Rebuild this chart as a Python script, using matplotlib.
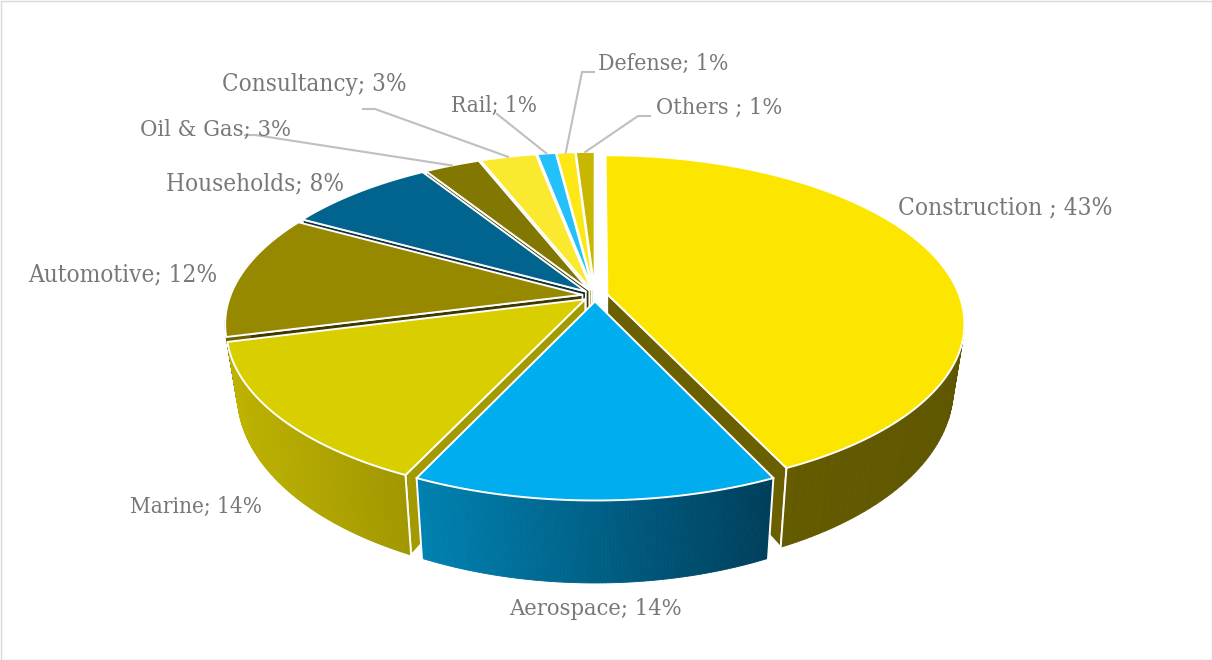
import numpy as np
import matplotlib
matplotlib.use("Agg")
import matplotlib.pyplot as plt
from matplotlib.colors import to_rgb
from matplotlib.patches import Polygon

categories = ["Construction ", "Aerospace", "Marine", "Automotive", "Households",
              "Oil & Gas", "Consultancy", "Rail", "Defense", "Others "]
values = [43, 14, 14, 12, 8, 3, 3, 1, 1, 1]

top_colors = ["#FCE600", "#00ADEE", "#D9CE00", "#968900", "#00648E",
              "#827700", "#FBE92F", "#24C0FA", "#FDE815", "#C8B700"]
wall_colors = ["#6B6000", "#00587C", "#A39900", "#3F3900", "#10303F",
               "#3D3800", "#8A7F10", "#0B6F96", "#8A7F00", "#6B6000"]
# outer rim shading, left to right
rim_colors = [("#6B6000", "#5F5600"), ("#0082B2", "#003F5C"), ("#BEB300", "#A19700"),
              ("#6B6000", "#6B6000"), ("#003F5C", "#003F5C"), ("#6B6000", "#6B6000"),
              ("#6B6000", "#6B6000"), ("#003F5C", "#003F5C"), ("#6B6000", "#6B6000"),
              ("#6B6000", "#6B6000")]

# label anchor (left edge, vertical centre) in figure pixels, with its font size
label_pos = [(898, 208), (509, 609), (130, 507), (28, 275), (166, 184),
             (140, 130), (222, 84), (451, 106), (598, 64), (656, 108)]
label_size = [17.6, 16.9, 16.2, 17.5, 17.4, 16.9, 17.4, 16.2, 16.5, 16.8]
# leader lines: start of line and knee, only the small slices have one
leaders = {5: [(245, 135), (255, 135)], 6: [(363, 109), (375, 109)], 7: [(497, 114)],
           8: [(594, 72), (582, 72)], 9: [(650, 116), (638, 116)]}

CX, CY = 595, 295.5
A, B, K = 352, 163, 0.17   # perspective of the disc
EXPLODE = 0.036
DEPTH = 62
SHRINK_X, SHRINK_Y = 0.97, 1.1


def project(u, v, bottom=False):
    # disc coordinates to figure pixels, v points away from the viewer
    w = 1 + K * v
    x = A * u / w
    y = B * v / w
    if bottom:
        return CX + SHRINK_X * x, CY - SHRINK_Y * y + DEPTH
    return CX + x, CY - y


fig = plt.figure(figsize=(12.12, 6.6), dpi=100)
ax = fig.add_axes([0, 0, 1, 1])
ax.set_xlim(0, 1212)
ax.set_ylim(660, 0)
ax.axis("off")
ax.add_patch(plt.Rectangle((0.5, 0.5), 1211, 659, fc="white", ec="#D9D9D9", lw=1))

total = sum(values)
edges = np.cumsum([0] + values) / total * 2 * np.pi
slices = []
for i in range(len(values)):
    mid = (edges[i] + edges[i + 1]) / 2
    du, dv = EXPLODE * np.sin(mid), EXPLODE * np.cos(mid)
    t = np.linspace(edges[i], edges[i + 1], max(int(values[i] * 6), 12))
    slices.append((i, np.cos(mid), du, dv, t))

# far slices first so nearer ones paint over them
for i, depth_key, du, dv, t in sorted(slices, key=lambda s: -s[1]):
    u = np.sin(t) + du
    v = np.cos(t) + dv
    xt, yt = project(u, v)
    xb, yb = project(u, v, bottom=True)
    ax0, ay0 = project(du, dv)
    bx0, by0 = project(du, dv, bottom=True)

    # only the radial wall turned towards the viewer is drawn
    end = None
    if edges[i + 1] < np.pi:
        end = -1
    elif edges[i] > np.pi:
        end = 0
    if end is not None:
        wall = [(ax0, ay0), (xt[end], yt[end]), (xb[end], yb[end]), (bx0, by0)]
        ax.add_patch(Polygon(wall, fc=wall_colors[i], ec="white", lw=1.2, joinstyle="round"))

    # outer rim, shaded in small strips, the far side never shows
    c0, c1 = np.array(to_rgb(rim_colors[i][0])), np.array(to_rgb(rim_colors[i][1]))
    dense = np.linspace(t[0], t[-1], 120)
    ud, vd = np.sin(dense) + du, np.cos(dense) + dv
    xd, yd = project(ud, vd)
    xe, ye = project(ud, vd, bottom=True)
    span = max(xd.max() - xd.min(), 1)
    for j in range(len(dense) - 1):
        if vd[j] > 0.3 and vd[j + 1] > 0.3:
            continue
        f = (xd[j] - xd.min()) / span
        col = c0 + (c1 - c0) * f
        quad = [(xd[j], yd[j]), (xd[j + 1], yd[j + 1]), (xe[j + 1], ye[j + 1]), (xe[j], ye[j])]
        ax.add_patch(Polygon(quad, fc=col, ec=col, lw=0.6))
    # white corner lines where the rim meets the walls, front corners only
    for k in (0, -1):
        if vd[k] < -0.5:
            ax.plot([xd[k], xe[k]], [yd[k], ye[k]], color="white", lw=1.4)

    # top face
    top = [(ax0, ay0)] + list(zip(xt, yt))
    ax.add_patch(Polygon(top, fc=top_colors[i], ec="white", lw=1.4, joinstyle="round"))

# leader lines end on the middle of the slice's arc
for i, pts in leaders.items():
    mid = (edges[i] + edges[i + 1]) / 2
    ex, ey = project((1 + EXPLODE) * np.sin(mid), (1 + EXPLODE) * np.cos(mid))
    xs = [p[0] for p in pts] + [ex]
    ys = [p[1] for p in pts] + [ey]
    ax.plot(xs, ys, color="#BFBFBF", lw=1.5, solid_joinstyle="miter")

for name, val, (lx, ly), fs in zip(categories, values, label_pos, label_size):
    ax.text(lx, ly, f"{name}; {val}%", fontsize=fs, color="#787878", family="DejaVu Serif",
            stretch="condensed", ha="left", va="center")

fig.savefig("out.png", dpi=100)
